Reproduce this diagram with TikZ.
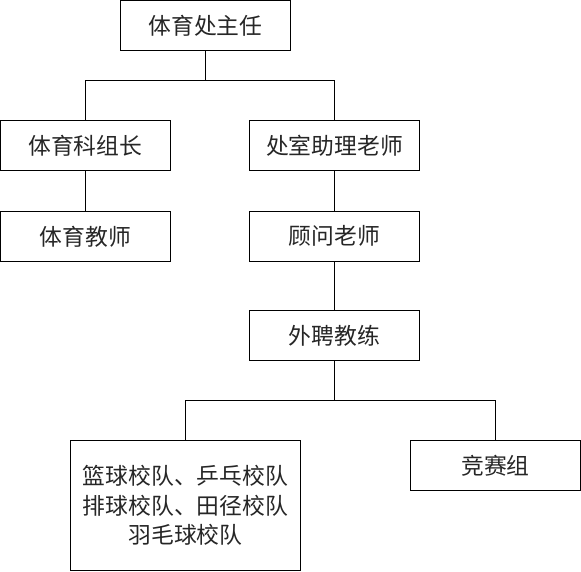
\documentclass[tikz,border=0pt]{standalone}
\usepackage{fontspec}
\newfontfamily\cjk{Noto Sans CJK SC}
\begin{document}
\begin{tikzpicture}[x=1pt,y=-1pt,
  box/.style={draw=black, line width=1pt, inner sep=0pt, minimum width=170pt, minimum height=49.6pt,
    font=\cjk\fontsize{22.8}{29.5}\selectfont, text=black!85, align=center},
  link/.style={draw=black, line width=1pt}]
\useasboundingbox (0,0) rectangle (581,571);
\node[box] (zr) at (205.5,25.3) {体育处主任};
\node[box] (kz) at (85.4,145.5) {体育科组长};
\node[box] (zl) at (334.5,145.5) {处室助理老师};
\node[box] (js) at (85.4,236.3) {体育教师};
\node[box] (gw) at (334.5,236.3) {顾问老师};
\node[box] (wp) at (334.5,335.5) {外聘教练};
\node[box, minimum width=229.6pt, minimum height=130pt] (dui) at (185.5,505.7) {篮球校队、乒乓校队\\排球校队、田径校队\\羽毛球校队};
\node[box] (js2) at (495.5,465.5) {竞赛组};
\coordinate (j1) at (205.5,80.3);
\coordinate (j2) at (334.5,400.3);
\draw[link] (zr.south) -- (j1);
\draw[link] (kz.north) |- (j1) -| (zl.north);
\draw[link] (kz.south) -- (js.north);
\draw[link] (zl.south) -- (gw.north);
\draw[link] (gw.south) -- (wp.north);
\draw[link] (wp.south) -- (j2);
\draw[link] (dui.north) |- (j2) -| (js2.north);
\end{tikzpicture}
\end{document}
